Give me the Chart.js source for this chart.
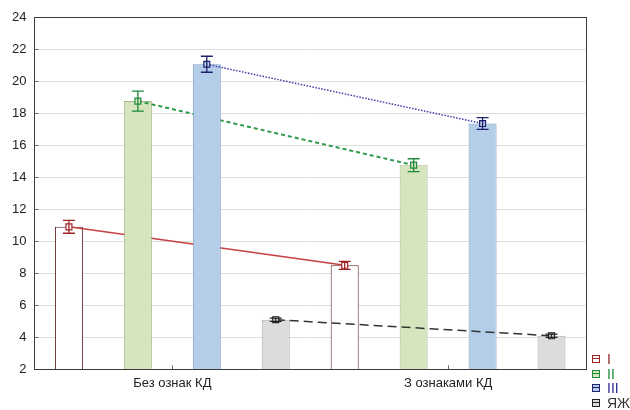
<!DOCTYPE html>
<html>
<head>
<meta charset="utf-8">
<script src="https://cdn.jsdelivr.net/npm/chart.js@4.4.1/dist/chart.umd.min.js"></script>
<style>
  html, body { margin: 0; padding: 0; background: #fff; }
  #wrap { position: relative; width: 630px; height: 410px; }
  #legend { position: absolute; left: 592px; top: 352px; font: 14px "Liberation Sans", Arial, sans-serif; line-height: 14.5px; }
  .item { display: flex; align-items: center; height: 14.5px; }
  .sw { box-sizing: border-box; width: 8px; height: 8px; border: 1px solid; position: relative; margin-right: 7px; }
  .sw::after { content: ""; position: absolute; left: -1px; right: -1px; top: 2px; height: 1px; background: currentColor; }
</style>
</head>
<body>
<div id="wrap">
  <canvas id="c" width="630" height="410"></canvas>
  <div id="legend"></div>
</div>
<script>
// Group labels on the x axis
const categories = ['Без ознак КД', 'З ознаками КД'];
// Series names
const seriesNames = ['I', 'II', 'III', 'ЯЖ'];
// Means per group
const meanI = [10.9, 8.5];
const meanII = [18.75, 14.75];
const meanIII = [21.05, 17.35];
const meanYaZh = [5.1, 4.1];
// Error half-widths per group
const errI = [0.4, 0.25];
const errII = [0.62, 0.4];
const errIII = [0.5, 0.37];
const errYaZh = [0.1, 0.1];
// Y axis range and step
const yMin = 2, yMax = 24, yStep = 2;

const means = [meanI, meanII, meanIII, meanYaZh];
const errs = [errI, errII, errIII, errYaZh];

const styles = [
  { fill: '#ffffff', border: '#5e2424', line: '#c84040', mark: '#a02424', dash: [], lw: 1.5, text: '#8b2525' },
  { fill: '#d6e5bd', border: '#a3bb86', line: '#2f9a4c', mark: '#1f8a3c', dash: [4, 3], lw: 2, text: '#1f8a3c' },
  { fill: '#b4cde8', border: '#7f9dc2', line: '#3d3da6', mark: '#20206e', dash: [1.5, 1.5], lw: 1.5, text: '#2a2a90' },
  { fill: '#dcdcdc', border: '#ababab', line: '#333333', mark: '#222222', dash: [9, 5], lw: 1.5, text: '#333333' }
];

const nSeries = seriesNames.length;
// One slot per bar: each group holds one slot per series
const slotLabels = categories.flatMap(c => seriesNames.map(s => c + ' ' + s));
function slot(values, seriesIdx) {
  const out = new Array(slotLabels.length).fill(null);
  values.forEach((v, g) => { out[g * nSeries + seriesIdx] = v; });
  return out;
}

const datasets = [];
seriesNames.forEach((name, i) => {
  const st = styles[i];
  const base = (nSeries - i) * 2;
  datasets.push({
    type: 'bar', label: name, xAxisID: 'x',
    data: slot(means[i], i),
    backgroundColor: st.fill, borderColor: st.border, borderWidth: 1,
    borderSkipped: false,
    grouped: false, barPercentage: 0.406, categoryPercentage: 1,
    order: base
  });
  datasets.push({
    type: 'line', label: name + ' mean', xAxisID: 'x',
    data: slot(means[i], i),
    errors: slot(errs[i], i),
    markColor: st.mark,
    spanGaps: true,
    borderColor: st.line, borderWidth: st.lw, borderDash: st.dash,
    pointStyle: 'rect', pointRadius: 4.2, pointBorderWidth: 1.2,
    pointBorderColor: st.mark, pointBackgroundColor: st.fill,
    fill: false, tension: 0,
    order: base - 1
  });
});

const errorBars = {
  id: 'errorBars',
  afterDatasetDraw(chart, args) {
    const ds = chart.data.datasets[args.index];
    if (!ds.errors) return;
    const y = chart.scales.y;
    const ctx = chart.ctx;
    ctx.save();
    ctx.strokeStyle = ds.markColor;
    ctx.lineWidth = 1.3;
    ctx.setLineDash([]);
    args.meta.data.forEach((el, k) => {
      const v = ds.data[k];
      if (v == null) return;
      const e = ds.errors[k];
      const x = el.x;
      const top = y.getPixelForValue(v + e);
      const bot = y.getPixelForValue(v - e);
      ctx.beginPath();
      ctx.moveTo(x, top); ctx.lineTo(x, bot);
      ctx.moveTo(x - 6, top); ctx.lineTo(x + 6, top);
      ctx.moveTo(x - 6, bot); ctx.lineTo(x + 6, bot);
      ctx.stroke();
    });
    ctx.restore();
  }
};

const frame = {
  id: 'frame',
  afterDatasetsDraw(chart) {
    const { ctx, chartArea: a, scales } = chart;
    ctx.save();
    ctx.strokeStyle = '#666';
    ctx.lineWidth = 1;
    // tick stubs
    ctx.beginPath();
    scales.y.ticks.forEach((t, i) => {
      const py = Math.round(scales.y.getPixelForTick(i)) + 0.5;
      ctx.moveTo(a.left, py); ctx.lineTo(a.left + 4, py);
    });
    scales.xg.ticks.forEach((t, i) => {
      const px = Math.round(scales.xg.getPixelForTick(i)) + 0.5;
      ctx.moveTo(px, a.bottom); ctx.lineTo(px, a.bottom - 4);
    });
    ctx.stroke();
    ctx.strokeStyle = '#3c3c3c';
    ctx.strokeRect(Math.round(a.left) + 0.5, Math.round(a.top) + 0.5,
      Math.round(a.right - a.left), Math.round(a.bottom - a.top));
    ctx.restore();
  }
};

const fontFamily = '"Liberation Sans", Arial, sans-serif';

new Chart(document.getElementById('c'), {
  data: { labels: slotLabels, datasets },
  options: {
    responsive: false,
    animation: false,
    layout: { padding: { left: 4, right: 44, top: 17, bottom: 13 } },
    plugins: { legend: { display: false }, tooltip: { enabled: false } },
    scales: {
      x: { type: 'category', display: false, offset: true },
      xg: {
        type: 'category', labels: categories, position: 'bottom', offset: true,
        grid: { display: false, drawTicks: false },
        border: { display: false },
        ticks: { padding: 6, color: '#222', font: { size: 13, family: fontFamily } }
      },
      y: {
        min: yMin, max: yMax,
        ticks: { stepSize: yStep, padding: 8, color: '#222', font: { size: 13, family: fontFamily } },
        grid: { color: '#dedede', drawTicks: false },
        border: { color: '#3c3c3c' }
      }
    }
  },
  plugins: [errorBars, frame]
});

// Legend
const legend = document.getElementById('legend');
seriesNames.forEach((name, i) => {
  const st = styles[i];
  const item = document.createElement('div');
  item.className = 'item';
  const sw = document.createElement('span');
  sw.className = 'sw';
  sw.style.borderColor = st.mark;
  sw.style.background = st.fill;
  sw.style.color = st.mark;
  const tx = document.createElement('span');
  tx.textContent = name;
  tx.style.color = st.text;
  item.appendChild(sw);
  item.appendChild(tx);
  legend.appendChild(item);
});
</script>
</body>
</html>
